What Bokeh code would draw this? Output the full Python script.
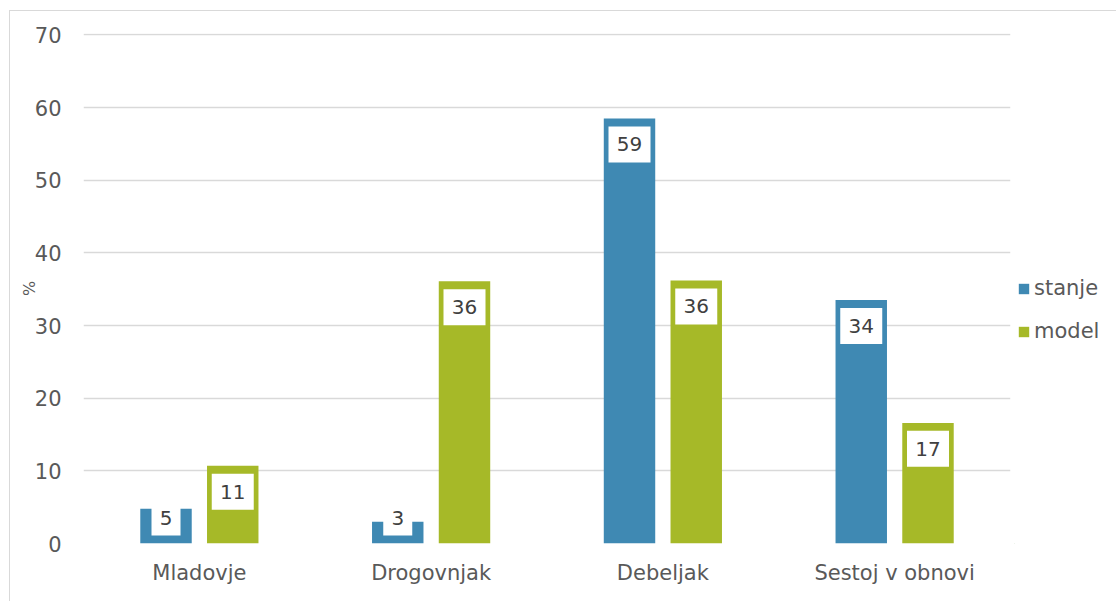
from bokeh.plotting import figure
from bokeh.models import ColumnDataSource, FactorRange, Range1d, Legend, LegendItem
from bokeh.layouts import row
from bokeh.transform import dodge
from bokeh.core.properties import value
from bokeh.embed import file_html
from bokeh.resources import INLINE

categories = ["Mladovje", "Drogovnjak", "Debeljak", "Sestoj v obnovi"]
stanje = [4.8, 3.0, 58.5, 33.5]
model = [10.7, 36.1, 36.2, 16.6]
stanje_labels = ["5", "3", "59", "34"]
model_labels = ["11", "36", "36", "17"]
series_names = ["stanje", "model"]
y_ticks = [0, 10, 20, 30, 40, 50, 60, 70]

BLUE = "#3F89B3"
GREEN = "#A6B928"
FONT = "DejaVu Sans"

p = figure(x_range=FactorRange(*categories, range_padding=0), y_range=Range1d(0, 70.2),
           width=1004, height=590, output_backend="svg", toolbar_location=None,
           min_border_left=73, min_border_right=4, min_border_top=22, min_border_bottom=58)
p.outline_line_color = None
p.background_fill_color = "white"

# pixel-to-data: plot frame height ~510 px for 70 units
lab_off = 26 * 70 / 510.0

def label_y(vals):
    return [max(v - lab_off, lab_off) for v in vals]

src = ColumnDataSource(dict(cat=categories, stanje=stanje, model=model,
                            sl=stanje_labels, ml=model_labels,
                            sy=label_y(stanje), my=label_y(model),
                            sw=[16 + 13 * len(s) for s in stanje_labels],
                            mw=[16 + 13 * len(s) for s in model_labels]))

off = 0.144
bw = 0.222
p.vbar(x=dodge("cat", -off, range=p.x_range), top="stanje", width=bw, source=src,
       fill_color=BLUE, line_color=None)
p.vbar(x=dodge("cat", off, range=p.x_range), top="model", width=bw, source=src,
       fill_color=GREEN, line_color=None)

for xo, yc, wc, tc in [(-off, "sy", "sw", "sl"), (off, "my", "mw", "ml")]:
    p.rect(x=dodge("cat", xo, range=p.x_range), y=yc, width=wc, height=36,
           width_units="screen", height_units="screen", source=src,
           fill_color="white", line_color=None)
    p.text(x=dodge("cat", xo, range=p.x_range), y=yc, text=tc, source=src,
           text_align="center", text_baseline="middle", text_font=value(FONT),
           text_font_size="20px", text_color="#404040")

p.xgrid.grid_line_color = None
p.ygrid.grid_line_color = "#d9d9d9"
p.ygrid.grid_line_width = 1.5
p.yaxis.ticker = y_ticks
p.yaxis.axis_line_color = None
p.yaxis.major_tick_line_color = None
p.yaxis.minor_tick_line_color = None
p.yaxis.major_tick_out = 0
p.yaxis.minor_tick_out = 0
p.yaxis.major_label_standoff = 22
p.yaxis.major_label_text_font = FONT
p.yaxis.major_label_text_font_size = "21px"
p.yaxis.major_label_text_color = "#595959"
p.yaxis.axis_label = "%"
p.yaxis.axis_label_standoff = -7
p.yaxis.axis_label_text_font = FONT
p.yaxis.axis_label_text_font_size = "16px"
p.yaxis.axis_label_text_font_style = "normal"
p.yaxis.axis_label_text_color = "#595959"

p.xaxis.axis_line_color = None
p.xaxis.major_tick_line_color = None
p.xaxis.minor_tick_line_color = None
p.xaxis.major_tick_out = 0
p.xaxis.minor_tick_out = 0
p.xaxis.major_label_standoff = 17
p.xaxis.major_label_text_font = FONT
p.xaxis.major_label_text_font_size = "21px"
p.xaxis.major_label_text_color = "#595959"

# legend panel (legend-only proxies placed outside the visible range)
p2 = figure(width=102, height=590, x_range=Range1d(0, 1), y_range=Range1d(0, 1),
            output_backend="svg", toolbar_location=None, min_border=0)
p2.outline_line_color = None
p2.axis.visible = False
p2.grid.visible = False
proxy = ColumnDataSource(dict(x=[-5.0], top=[-5.0]))
l1 = p2.vbar(x="x", top="top", width=0.1, source=proxy, fill_color=BLUE, line_color=None)
l2 = p2.vbar(x="x", top="top", width=0.1, source=proxy, fill_color=GREEN, line_color=None)
legend = Legend(items=[LegendItem(label=series_names[0], renderers=[l1]),
                       LegendItem(label=series_names[1], renderers=[l2])],
                location=(3, 200), orientation="vertical",
                glyph_width=13, glyph_height=13, label_standoff=4, spacing=19,
                padding=0, margin=0, border_line_color=None, background_fill_alpha=0,
                label_text_font=FONT, label_text_font_size="21px", label_text_color="#595959")
p2.add_layout(legend)

layout = row(p, p2)
layout.styles = {"border-top": "1px solid #d9d9d9", "border-left": "1px solid #d9d9d9",
                 "margin-left": "9px", "margin-top": "10px"}

open("out.html", "w").write(file_html(layout, INLINE))
